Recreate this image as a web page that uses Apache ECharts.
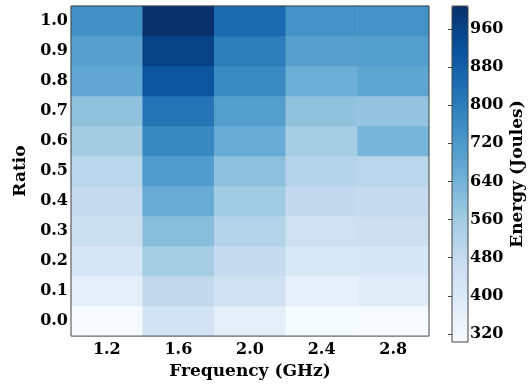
<!DOCTYPE html>
<html>
<head>
<meta charset="utf-8">
<script src="https://cdn.jsdelivr.net/npm/echarts@6/dist/echarts.min.js"></script>
<style>html,body{margin:0;padding:0;background:#fff;}#c{width:529px;height:385px;}</style>
</head>
<body>
<div id="c"></div>
<script>
const freqs = ['1.2', '1.6', '2.0', '2.4', '2.8'];
const ratios = ['0.0', '0.1', '0.2', '0.3', '0.4', '0.5', '0.6', '0.7', '0.8', '0.9', '1.0'];
// energy (Joules) per frequency, ratio 0.0 -> 1.0
const e12 = [306, 373, 416, 458, 479, 507, 557, 592, 677, 698, 747];
const e16 = [437, 486, 550, 606, 663, 712, 768, 825, 909, 959, 1008];
const e20 = [373, 444, 479, 522, 564, 599, 663, 705, 761, 797, 853];
const e24 = [310, 363, 409, 451, 486, 515, 550, 592, 655, 698, 740];
const e28 = [306, 380, 412, 455, 479, 507, 634, 585, 684, 705, 740];
const cbTicks = [320, 400, 480, 560, 640, 720, 800, 880, 960];
const eMin = 303, eMax = 1008;

const cols = [e12, e16, e20, e24, e28];
const heat = [];
cols.forEach((col, i) => col.forEach((v, j) => heat.push([i, j, v])));

const FONT = 'DejaVu Serif';
const frame = '#444';
const lab = {fontFamily: FONT, fontWeight: 'bold', fontSize: 16, color: '#000'};
const nm = {fontFamily: FONT, fontWeight: 'bold', fontSize: 17, color: '#000'};

const chart = echarts.init(document.getElementById('c'), null, {renderer: 'canvas'});
chart.setOption({
  animation: false,
  backgroundColor: '#fff',
  grid: [
    {left: 71, right: 100, top: 6, bottom: 43, show: true, borderColor: frame, borderWidth: 1, backgroundColor: 'transparent', z: 10},
    {left: 452, width: 16, top: 6, height: 336, show: true, borderColor: frame, borderWidth: 1, backgroundColor: 'transparent', z: 10}
  ],
  xAxis: [
    {type: 'category', data: freqs, gridIndex: 0, position: 'bottom',
     axisLine: {show: false}, axisTick: {show: true, inside: true, alignWithLabel: true, length: 4, lineStyle: {color: frame}},
     axisLabel: Object.assign({margin: 6}, lab),
     splitLine: {show: false},
     name: 'Frequency (GHz)', nameLocation: 'middle', nameGap: 23, nameTextStyle: nm},
    {type: 'category', data: freqs, gridIndex: 0, position: 'top',
     axisLine: {show: false}, axisTick: {show: true, inside: true, alignWithLabel: true, length: 4, lineStyle: {color: frame}},
     axisLabel: {show: false}, splitLine: {show: false}},
    {type: 'value', gridIndex: 1, show: false, min: 0, max: 1}
  ],
  yAxis: [
    {type: 'category', data: ratios, gridIndex: 0, position: 'left',
     axisLine: {show: false}, axisTick: {show: true, inside: true, alignWithLabel: true, length: 4, lineStyle: {color: frame}},
     axisLabel: Object.assign({margin: 3}, lab),
     splitLine: {show: false},
     name: 'Ratio', nameLocation: 'middle', nameGap: 35, nameRotate: 90, nameTextStyle: nm},
    {type: 'category', data: ratios, gridIndex: 0, position: 'right',
     axisLine: {show: false}, axisTick: {show: true, inside: true, alignWithLabel: true, length: 4, lineStyle: {color: frame}},
     axisLabel: {show: false}, splitLine: {show: false}},
    {type: 'value', gridIndex: 1, position: 'right', min: eMin, max: eMax,
     axisLine: {show: false},
     axisTick: {show: true, inside: true, length: 4, customValues: cbTicks, lineStyle: {color: frame}},
     axisLabel: Object.assign({margin: 2, customValues: cbTicks}, lab),
     splitLine: {show: false},
     name: 'Energy (Joules)', nameLocation: 'middle', nameGap: 41, nameRotate: 90, nameTextStyle: nm}
  ],
  visualMap: {
    type: 'continuous', min: eMin, max: eMax, seriesIndex: 0,
    show: true, calculable: false, hoverLink: false,
    left: 452, top: 6, itemWidth: 16, itemHeight: 336, padding: 0,
    inRange: {color: ['#f7fbff', '#deebf7', '#c6dbef', '#9ecae1', '#6baed6', '#4292c6', '#2171b5', '#08519c', '#08306b']}
  },
  series: [
    {type: 'heatmap', xAxisIndex: 0, yAxisIndex: 0, data: heat, itemStyle: {borderWidth: 0}, emphasis: {disabled: true}},
    {type: 'scatter', xAxisIndex: 2, yAxisIndex: 2, data: [], silent: true}
  ]
});
</script>
</body>
</html>
